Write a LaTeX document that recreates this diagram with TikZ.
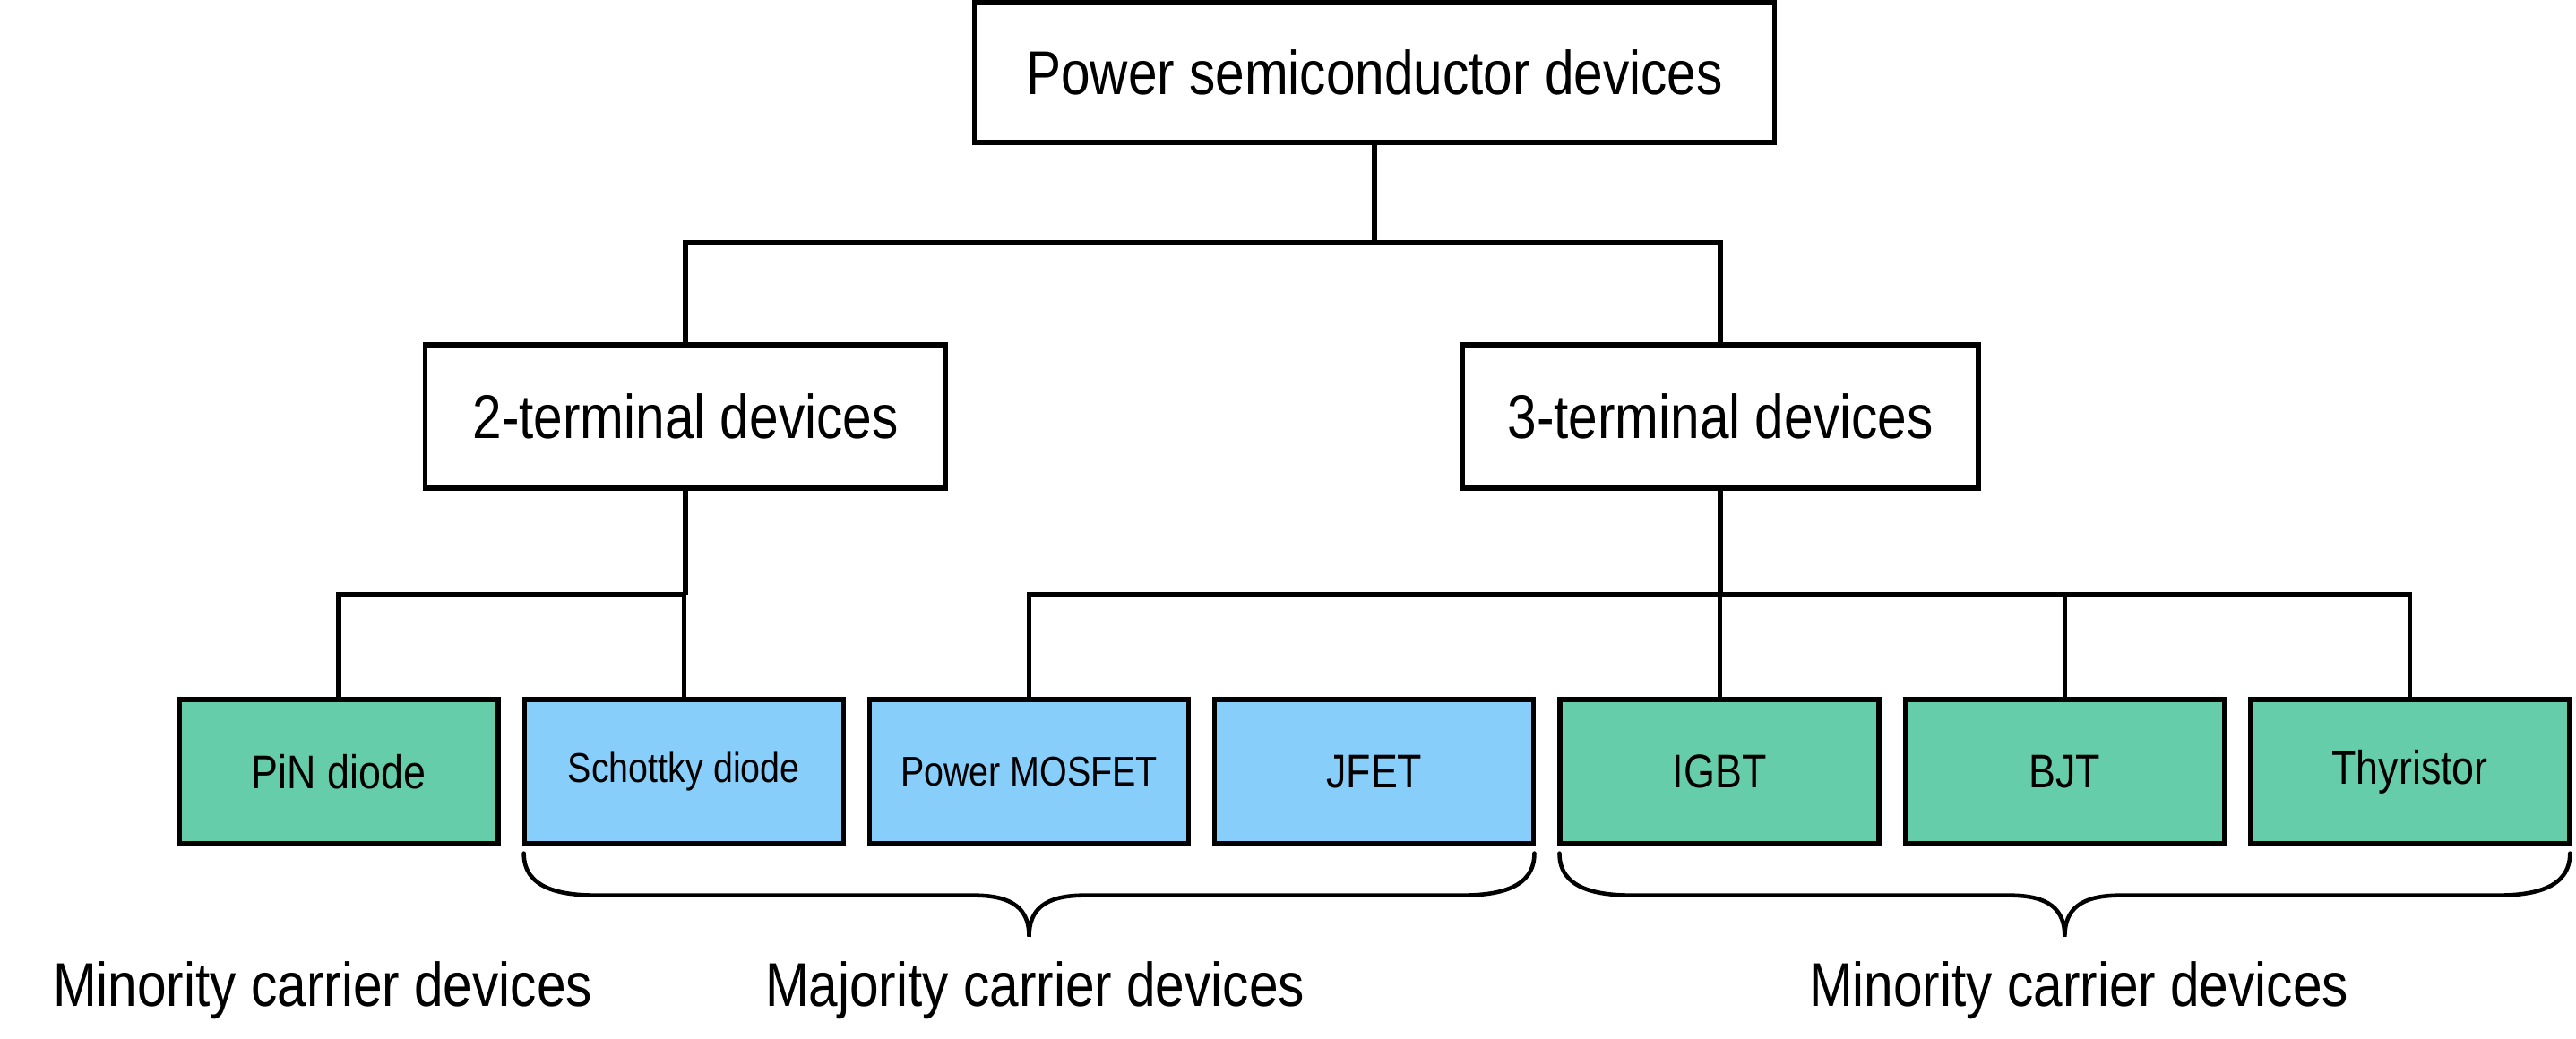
\documentclass[tikz,border=0pt]{standalone}
\usepackage{fontspec,xcolor,tikz}
\setmainfont{Liberation Sans}[FakeStretch=0.85]
\usetikzlibrary{positioning,calc}
\definecolor{Minc}{HTML}{66CDAA}
\definecolor{Majc}{HTML}{87CEFA}
\tikzset{
  head/.style={draw=black, line width=1.5pt, fill=white, inner sep=0pt, font=\fontsize{19.6}{23}\selectfont},
  dev/.style={draw=black, line width=1.5pt, inner sep=0pt, minimum width=3.56cm, minimum height=1.61cm, font=\fontsize{15}{18}\selectfont},
  mindev/.style={dev, fill=Minc},
  majdev/.style={dev, fill=Majc},
  small/.style={font=\fontsize{13.2}{16}\selectfont},
  conn/.style={line width=1.45pt},
  brc/.style={line width=1.3pt, line cap=round},
  lbl/.style={inner sep=0pt, anchor=base, font=\fontsize{19.6}{23}\selectfont},
}
\newcommand{\carrierbrace}[3]{%
  \coordinate (#3l) at ($(#1.south west)+(0.02,-0.08)$);
  \coordinate (#3r) at ($(#2.south east)+(-0.02,-0.08)$);
  \coordinate (#3m) at ($(#3l)!0.5!(#3r)$);
  \draw[brc] (#3l) .. controls +(0,-0.4) and +(-0.4,0) .. ($(#3l)+(0.82,-0.47)$)
    -- ($(#3m)+(-0.62,-0.47)$) .. controls +(0.45,0) and +(0,0.3) .. ($(#3m)+(0,-0.93)$)
    .. controls +(0,0.3) and +(-0.45,0) .. ($(#3m)+(0.62,-0.47)$)
    -- ($(#3r)+(-0.82,-0.47)$) .. controls +(0.4,0) and +(0,-0.4) .. (#3r);}

\begin{document}
\begin{tikzpicture}
  \useasboundingbox (0,0) rectangle (28.75,-11.59);
  % heads
  \node[head, minimum width=8.93cm, minimum height=1.56cm] (top) at (15.34,-0.81) {Power semiconductor devices};
  \node[head, minimum width=5.81cm, minimum height=1.60cm] (two) at (7.65,-4.65) {2-terminal devices};
  \node[head, minimum width=5.76cm, minimum height=1.60cm] (three) at (19.20,-4.65) {3-terminal devices};
  % devices
  \node[mindev] (pin) at (3.78,-8.615) {PiN diode};
  \node[majdev, small, right=0.24cm of pin] (schottky) {Schottky diode};
  \node[majdev, small, right=0.24cm of schottky] (mosfet) {Power MOSFET};
  \node[majdev, right=0.24cm of mosfet] (jfet) {JFET};
  \node[mindev, right=0.24cm of jfet] (igbt) {IGBT};
  \node[mindev, right=0.24cm of igbt] (bjt) {BJT};
  \node[mindev, right=0.24cm of bjt] (thyristor) {Thyristor};
  % tree
  \coordinate (bus0) at (0,-2.71);
  \coordinate (bus1) at (0,-6.64);
  \draw[conn] (top.south) -- (top.south |- bus0);
  \draw[conn] (two.north) |- (three.north |- bus0) -- (three.north);
  \draw[conn] (two.south) -- (two.south |- bus1);
  \draw[conn] (pin.north) |- (schottky.north |- bus1) -- (schottky.north);
  \draw[conn] (three.south) -- (three.south |- bus1);
  \draw[conn] (mosfet.north) |- (thyristor.north |- bus1) -- (thyristor.north);
  \draw[conn] (igbt.north) -- (igbt.north |- bus1);
  \draw[conn] (bjt.north) -- (bjt.north |- bus1);
  % braces and labels
  \carrierbrace{schottky}{jfet}{bmaj}
  \carrierbrace{igbt}{thyristor}{bmin}
  \node[lbl] (minL) at (3.60,-11.23) {Minority carrier devices};
  \node[lbl] (majL) at (11.55,-11.23) {Majority carrier devices};
  \node[lbl] (minR) at (23.20,-11.23) {Minority carrier devices};
\end{tikzpicture}
\end{document}
